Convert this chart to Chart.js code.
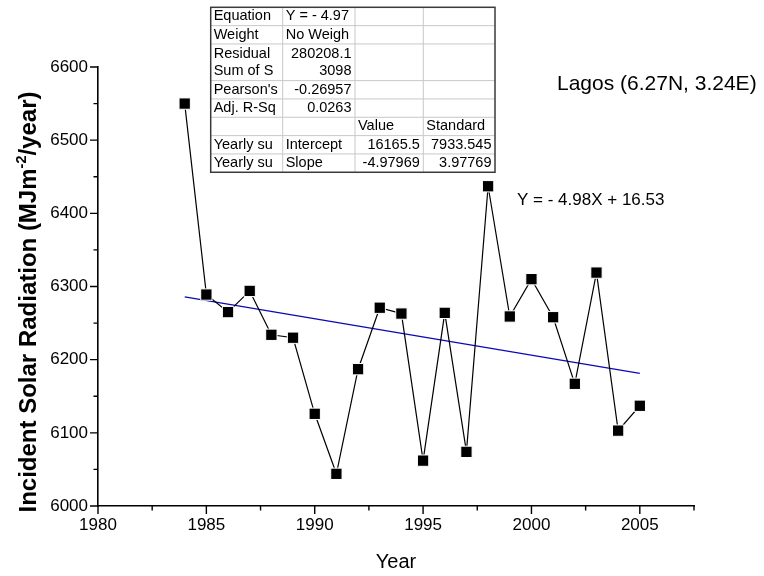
<!DOCTYPE html>
<html>
<head>
<meta charset="utf-8">
<title>Lagos incident solar radiation</title>
<script src="https://cdn.jsdelivr.net/npm/chart.js@4.4.1/dist/chart.umd.min.js"></script>
<style>
  html, body { margin: 0; padding: 0; background: #fff; }
  #wrap { position: relative; width: 764px; height: 576px; }
</style>
</head>
<body>
<div id="wrap"><canvas id="chart" width="764" height="576"></canvas></div>
<script>
// --- Data ---
const years = [1984, 1985, 1986, 1987, 1988, 1989, 1990, 1991, 1992, 1993, 1994,
               1995, 1996, 1997, 1998, 1999, 2000, 2001, 2002, 2003, 2004, 2005];
const radiation = [6550, 6289, 6265, 6294, 6234, 6230, 6126, 6044, 6187, 6271, 6263,
                   6062, 6264, 6074, 6437, 6259, 6310, 6258, 6167, 6319, 6103, 6137];
const fitYears = [1984, 2005];
const fitValues = [6285.8, 6181.2];

const xTickValues = [1980, 1985, 1990, 1995, 2000, 2005];
const xMinorValues = [1982.5, 1987.5, 1992.5, 1997.5, 2002.5, 2007.5];
const yTickValues = [6000, 6100, 6200, 6300, 6400, 6500, 6600];
const yMinorValues = [6050, 6150, 6250, 6350, 6450, 6550];

const tableRows = [
  ['Equation', 'Y = - 4.97', '', ''],
  ['Weight', 'No Weigh', '', ''],
  [['Residual', 'Sum of S'], ['280208.1', '3098'], '', ''],
  ["Pearson's", '-0.26957', '', ''],
  ['Adj. R-Sq', '0.0263', '', ''],
  ['', '', 'Value', 'Standard'],
  ['Yearly su', 'Intercept', '16165.5', '7933.545'],
  ['Yearly su', 'Slope', '-4.97969', '3.97769']
];

const siteLabel = 'Lagos (6.27N, 3.24E)';
const fitLabel = 'Y = - 4.98X + 16.53';

// --- Look ---
const FONT = "'Liberation Sans', Arial, sans-serif";
Chart.defaults.font.family = FONT;
Chart.defaults.color = '#000';

// table geometry
const colEdges = [210.7, 282.7, 355, 423.3, 495];
const tableTop = 7.3;
const rowH = 18.33;
const rowSpans = [1, 1, 2, 1, 1, 1, 1, 1];

function isNumber(s) {
  return /^-?[\d.]+$/.test(s);
}

function drawTable(ctx) {
  ctx.save();
  ctx.font = '14.5px ' + FONT;
  ctx.textBaseline = 'middle';
  ctx.fillStyle = '#000';

  let top = tableTop;
  const rowTops = [];
  tableRows.forEach((row, r) => {
    const h = rowSpans[r] * rowH;
    rowTops.push(top);
    row.forEach((cell, c) => {
      const lines = Array.isArray(cell) ? cell : [cell];
      lines.forEach((txt, k) => {
        if (!txt) return;
        const cy = top + h / 2 + (lines.length > 1 ? (k - 0.5) * 16.6 : 0);
        if (isNumber(txt)) {
          ctx.textAlign = 'right';
          ctx.fillText(txt, colEdges[c + 1] - 3.5, cy);
        } else {
          ctx.textAlign = 'left';
          ctx.fillText(txt, colEdges[c] + 3, cy);
        }
      });
    });
    top += h;
  });
  const bottom = top;

  // inner grid
  ctx.strokeStyle = '#c8c8c8';
  ctx.lineWidth = 1;
  ctx.beginPath();
  rowTops.slice(1).forEach(t => { ctx.moveTo(colEdges[0], t); ctx.lineTo(colEdges[4], t); });
  colEdges.slice(1, 4).forEach(x => { ctx.moveTo(x, tableTop); ctx.lineTo(x, bottom); });
  ctx.stroke();

  // outer frame
  ctx.strokeStyle = '#3a3a3a';
  ctx.lineWidth = 1.5;
  ctx.strokeRect(colEdges[0], tableTop, colEdges[4] - colEdges[0], bottom - tableTop);
  ctx.restore();
}

function drawYTitle(ctx, cx, cy) {
  const main = 'bold 24px ' + FONT;
  const sup = 'bold 14.5px ' + FONT;
  const a = 'Incident Solar Radiation (MJm';
  const s = '-2';
  const b = '/year)';
  ctx.save();
  ctx.translate(cx, cy);
  ctx.rotate(-Math.PI / 2);
  ctx.fillStyle = '#000';
  ctx.textAlign = 'left';
  ctx.textBaseline = 'alphabetic';
  ctx.font = main;
  const wa = ctx.measureText(a).width;
  const wb = ctx.measureText(b).width;
  ctx.font = sup;
  const ws = ctx.measureText(s).width;
  let x = -(wa + ws + wb) / 2;
  const base = 8.6;
  ctx.font = main;
  ctx.fillText(a, x, base);
  x += wa;
  ctx.font = sup;
  ctx.fillText(s, x, base - 9.5);
  x += ws;
  ctx.font = main;
  ctx.fillText(b, x, base);
  ctx.restore();
}

const decorPlugin = {
  id: 'decor',
  afterDraw(chart) {
    const { ctx, scales: { x, y } } = chart;
    const axisY = y.getPixelForValue(yTickValues[0]);
    const axisX = x.getPixelForValue(xTickValues[0]);

    ctx.save();
    ctx.strokeStyle = '#000';
    ctx.lineWidth = 1.4;
    ctx.beginPath();
    xTickValues.forEach(v => { const px = x.getPixelForValue(v); ctx.moveTo(px, axisY); ctx.lineTo(px, axisY + 8); });
    xMinorValues.forEach(v => { const px = x.getPixelForValue(v); ctx.moveTo(px, axisY); ctx.lineTo(px, axisY + 4.5); });
    yTickValues.forEach(v => { const py = y.getPixelForValue(v); ctx.moveTo(axisX, py); ctx.lineTo(axisX - 8, py); });
    yMinorValues.forEach(v => { const py = y.getPixelForValue(v); ctx.moveTo(axisX, py); ctx.lineTo(axisX - 4.5, py); });
    ctx.stroke();

    // annotations
    ctx.fillStyle = '#000';
    ctx.textBaseline = 'middle';
    ctx.textAlign = 'left';
    ctx.font = '21px ' + FONT;
    ctx.fillText(siteLabel, 557, 84);
    ctx.font = '17px ' + FONT;
    ctx.fillText(fitLabel, 517, 200);
    ctx.restore();

    drawYTitle(ctx, 27, 302);
    drawTable(ctx);
  }
};

// --- Chart ---
const ctx = document.getElementById('chart').getContext('2d');
new Chart(ctx, {
  type: 'scatter',
  data: {
    datasets: [
      {
        label: 'Yearly sum',
        data: years.map((yr, i) => ({ x: yr, y: radiation[i] })),
        showLine: true,
        borderColor: '#000',
        borderWidth: 1.2,
        pointStyle: 'rect',
        pointRadius: 8,
        pointBackgroundColor: '#000',
        pointBorderColor: '#fff',
        pointBorderWidth: 1
      },
      {
        label: 'Linear fit',
        data: fitYears.map((yr, i) => ({ x: yr, y: fitValues[i] })),
        showLine: true,
        borderColor: '#0a0ab4',
        borderWidth: 1.3,
        pointRadius: 0
      }
    ]
  },
  options: {
    responsive: false,
    animation: false,
    events: [],
    layout: { padding: { top: 67, right: 70, left: 0, bottom: 0 } },
    plugins: { legend: { display: false }, tooltip: { enabled: false } },
    scales: {
      x: {
        type: 'linear',
        min: 1980,
        max: 2007.5,
        afterBuildTicks: s => { s.ticks = xTickValues.map(v => ({ value: v })); },
        afterFit: s => { s.height = 70; },
        ticks: { font: { size: 17 }, padding: 9, maxRotation: 0, autoSkip: false, callback: v => String(v) },
        grid: { display: false, drawTicks: false },
        border: { display: true, color: '#000', width: 1.6 },
        title: { display: true, text: 'Year', font: { size: 20 }, padding: { top: 2, bottom: 2 } }
      },
      y: {
        min: 6000,
        max: 6600,
        afterBuildTicks: s => { s.ticks = yTickValues.map(v => ({ value: v })); },
        afterFit: s => { s.width = 98; },
        ticks: { font: { size: 17 }, padding: 10, autoSkip: false, callback: v => String(v) },
        grid: { display: false, drawTicks: false },
        border: { display: true, color: '#000', width: 1.6 }
      }
    }
  },
  plugins: [decorPlugin]
});
</script>
</body>
</html>
